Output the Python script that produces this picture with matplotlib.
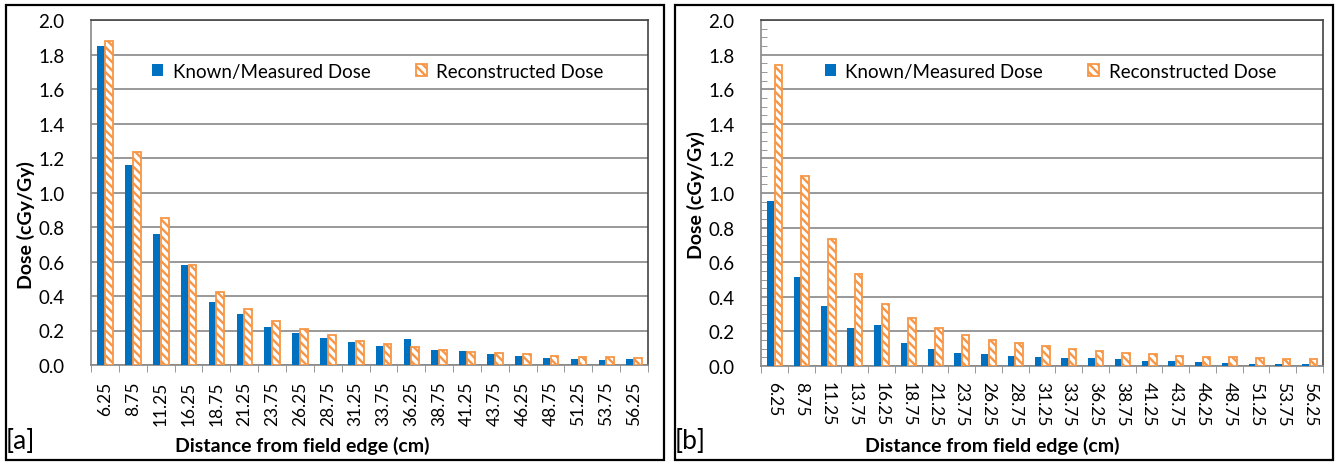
import numpy as np
import matplotlib
matplotlib.use("Agg")
import matplotlib.pyplot as plt
from matplotlib.patches import Rectangle
from matplotlib.ticker import MultipleLocator

plt.rcParams['font.family'] = ['Lato', 'DejaVu Sans']
plt.rcParams['hatch.linewidth'] = 1.7

# x categories (distance from field edge, cm)
labels_a = ['6.25', '8.75', '11.25', '16.25', '18.75', '21.25', '23.75', '26.25', '28.75', '31.25',
            '33.75', '36.25', '38.75', '41.25', '43.75', '46.25', '48.75', '51.25', '53.75', '56.25']
labels_b = ['6.25', '8.75', '11.25', '13.75', '16.25', '18.75', '21.25', '23.75', '26.25', '28.75',
            '31.25', '33.75', '36.25', '38.75', '41.25', '43.75', '46.25', '48.75', '51.25', '53.75',
            '56.25']

# panel [a]
known_a = [1.85, 1.16, 0.76, 0.58, 0.366, 0.297, 0.222, 0.187, 0.156, 0.136,
           0.111, 0.148, 0.089, 0.080, 0.064, 0.054, 0.041, 0.033, 0.031, 0.033]
recon_a = [1.88, 1.236, 0.85, 0.578, 0.424, 0.324, 0.256, 0.208, 0.174, 0.142,
           0.120, 0.103, 0.089, 0.078, 0.072, 0.062, 0.054, 0.049, 0.045, 0.041]

# panel [b]
known_b = [0.951, 0.516, 0.344, 0.222, 0.238, 0.135, 0.097, 0.077, 0.070, 0.058,
           0.050, 0.049, 0.045, 0.039, 0.029, 0.029, 0.021, 0.017, 0.014, 0.012, 0.010]
recon_b = [1.741, 1.096, 0.736, 0.529, 0.361, 0.278, 0.220, 0.182, 0.153, 0.132,
           0.113, 0.097, 0.087, 0.078, 0.068, 0.060, 0.054, 0.050, 0.049, 0.043, 0.039]

BLUE = '#0070C0'
ORANGE = '#F79646'
GRID = '#888888'

W, H = 1336, 464
fig = plt.figure(figsize=(W / 100, H / 100), dpi=100)


def px_axes(left, top, right, bottom):
    return fig.add_axes([left / W, 1 - bottom / H, (right - left) / W, (bottom - top) / H])


def draw_panel(ax, labels, known, recon, rot, minor_y):
    x = np.arange(len(labels))
    ax.bar(x - 0.14, known, width=0.27, color=BLUE, label='Known/Measured Dose', zorder=3)
    ax.bar(x + 0.145, recon, width=0.28, facecolor='white', edgecolor=ORANGE, hatch='\\\\\\\\',
           linewidth=1.3, label='Reconstructed Dose', zorder=3)

    ax.set_xlim(-0.5, len(labels) - 0.5)
    ax.set_ylim(0, 2.0)
    yt = np.arange(0, 2.01, 0.2)
    ax.set_yticks(yt)
    ax.set_yticklabels([f'{v:.1f}' for v in yt], fontsize=13.5)
    ax.yaxis.grid(True, color=GRID, linewidth=1.2, zorder=0)
    ax.tick_params(axis='y', length=0, pad=19)
    if minor_y:
        ax.yaxis.set_minor_locator(MultipleLocator(0.05))
        ax.tick_params(axis='y', which='minor', direction='in', length=4, color=GRID)

    ax.set_xticks(x)
    ax.set_xticklabels(labels, rotation=rot, fontsize=12.5, va='top')
    ax.tick_params(axis='x', which='major', length=0, pad=11)
    ax.set_xticks(np.arange(-0.5, len(labels), 1.0), minor=True)
    ax.tick_params(axis='x', which='minor', length=5, color=GRID)

    for side in ['left', 'bottom']:
        ax.spines[side].set_color(GRID)
        ax.spines[side].set_linewidth(1.2)
    for side in ['top', 'right']:
        ax.spines[side].set_color('#444444')
        ax.spines[side].set_linewidth(1.2)

    ax.legend(loc='center', bbox_to_anchor=(0.515, 0.852), ncol=2, frameon=False,
              fontsize=13.5, columnspacing=2.4, handlelength=0.6, handleheight=0.6,
              handletextpad=0.5)


# panel frames
fig.patches.append(Rectangle((6 / W, 3 / H), 658 / W, 455 / H, transform=fig.transFigure,
                             fill=False, edgecolor='black', linewidth=1.6))
fig.patches.append(Rectangle((675 / W, 3 / H), 658 / W, 455 / H, transform=fig.transFigure,
                             fill=False, edgecolor='black', linewidth=1.6))

ax_a = px_axes(91, 21, 648, 366)
draw_panel(ax_a, labels_a, known_a, recon_a, 90, False)
ax_b = px_axes(761, 21, 1323, 367)
draw_panel(ax_b, labels_b, known_b, recon_b, -90, True)

# axis labels
fig.text(26 / W, 1 - 225 / H, 'Dose (cGy/Gy)', rotation=90, ha='center', va='center',
         fontsize=14, fontweight='bold')
fig.text(696 / W, 1 - 195 / H, 'Dose (cGy/Gy)', rotation=90, ha='center', va='center',
         fontsize=14, fontweight='bold')
fig.text(302 / W, 1 - 446 / H, 'Distance from field edge (cm)', ha='center', va='center',
         fontsize=14, fontweight='bold')
fig.text(992 / W, 1 - 446 / H, 'Distance from field edge (cm)', ha='center', va='center',
         fontsize=14, fontweight='bold')

fig.text(20 / W, 1 - 442 / H, '[a]', ha='center', va='center', fontsize=19)
fig.text(690 / W, 1 - 442 / H, '[b]', ha='center', va='center', fontsize=19)

fig.savefig('out.png', dpi=100)
